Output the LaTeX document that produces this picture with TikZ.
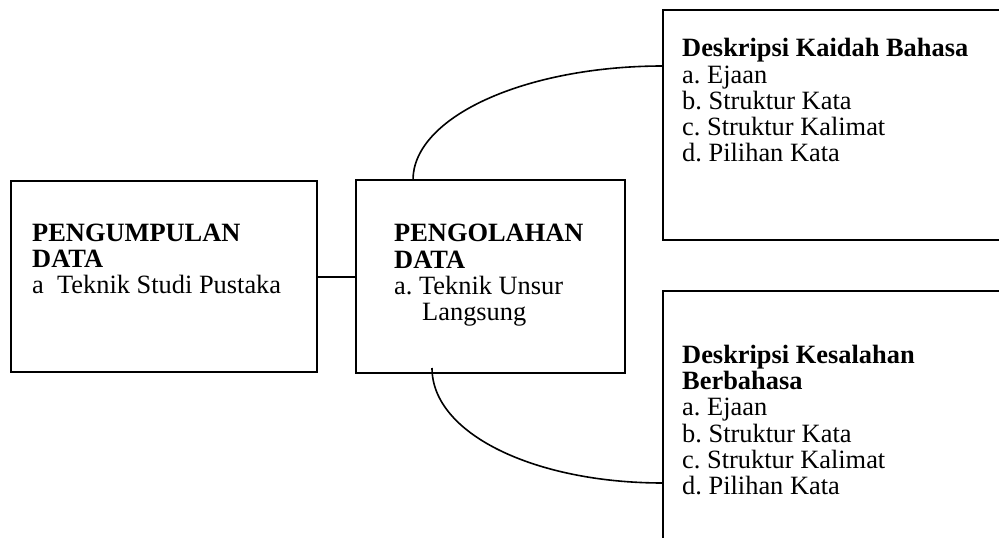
\documentclass[tikz,border=0pt]{standalone}
\usepackage{fontspec}
\setmainfont{Liberation Serif}
\usepackage{tikz}
\usetikzlibrary{arrows.meta,positioning}

\tikzset{
kotak/.style={draw, line width=2pt, rectangle, inner sep=0pt, outer sep=0pt},
teks/.style={align=left, inner sep=0pt, anchor=base west, font=\fontsize{26.4pt}{26.3pt}\selectfont\frenchspacing},
garis/.style={line width=1.6pt}
}

\begin{document}
\begin{tikzpicture}[x=1pt, y=-1pt]
\useasboundingbox (0,0) rectangle (999,538);
\clip (0,0) rectangle (999,538);

% kotak
\node[kotak, minimum width=306pt, minimum height=191pt] (pengumpulan) at (164,276.5) {};
\node[kotak, minimum width=269pt, minimum height=193pt] (pengolahan) at (490.5,276.5) {};
\node[kotak, minimum width=347pt, minimum height=230pt] (kaidah) at (836.5,125) {};
\node[kotak, minimum width=347pt, minimum height=279pt] (kesalahan) at (836.5,430.5) {};

% isi (base = baris terakhir)
\node[teks] (teks1) at (32,293.6) {\textbf{PENGUMPULAN}\\\textbf{DATA}\\a\ \ Teknik Studi Pustaka};
\node[teks] (teks2) at (394,320.6) {\textbf{PENGOLAHAN}\\\textbf{DATA}\\a. Teknik Unsur\\\hspace*{28pt}Langsung};
\node[teks] (teks3) at (682,161.9) {\textbf{Deskripsi Kaidah Bahasa}\\a. Ejaan\\b. Struktur Kata\\c. Struktur Kalimat\\d. Pilihan Kata};
\node[teks] (teks4) at (682,494.8) {\textbf{Deskripsi Kesalahan}\\\textbf{Berbahasa}\\a. Ejaan\\b. Struktur Kata\\c. Struktur Kalimat\\d. Pilihan Kata};

% hubungan
\draw[line width=2pt] (pengumpulan.east) -- (pengolahan.west);
\draw[garis] ([xshift=57pt]pengolahan.north west) .. controls +(0,-63) and +(-138,0) .. ([yshift=-56pt]kaidah.north west);
\draw[garis] ([xshift=76pt,yshift=5pt]pengolahan.south west) .. controls +(0,66) and +(-128,0) .. ([yshift=-192pt]kesalahan.north west);
\end{tikzpicture}
\end{document}
